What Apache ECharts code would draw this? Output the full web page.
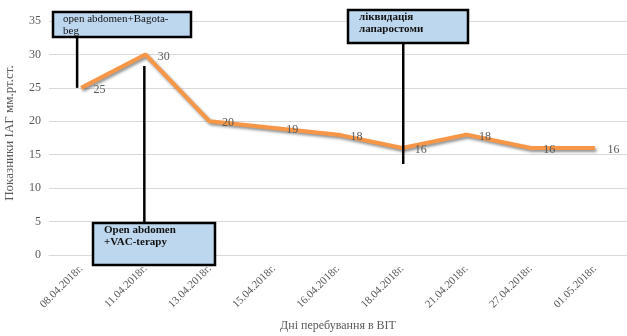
<!DOCTYPE html>
<html>
<head>
<meta charset="utf-8">
<script src="https://cdn.jsdelivr.net/npm/echarts@6/dist/echarts.min.js"></script>
<style>
  html, body { margin: 0; padding: 0; background: #fff; }
  #chart { width: 627px; height: 336px; }
</style>
</head>
<body>
<div id="chart"></div>
<script>
const days = ['08.04.2018г.', '11.04.2018г.', '13.04.2018г.', '15.04.2018г.', '16.04.2018г.',
  '18.04.2018г.', '21.04.2018г.', '27.04.2018г.', '01.05.2018г.']
const iap = [25, 30, 20, 19, 18, 16, 18, 16, 16]
const yTicks = [0, 5, 10, 15, 20, 25, 30, 35]

const serif = '"Liberation Serif", "DejaVu Serif", serif'
const gray = '#595959'

const chart = echarts.init(document.getElementById('chart'))

chart.setOption({
  animation: false,
  grid: { left: 49, right: 0, top: 21, bottom: 81, outerBoundsMode: 'none', containLabel: false },
  xAxis: {
    type: 'category',
    data: days,
    name: 'Дні перебування в ВІТ',
    nameLocation: 'middle',
    nameGap: 65,
    nameTextStyle: { fontFamily: serif, fontSize: 12, color: gray },
    axisLine: { lineStyle: { color: '#d9d9d9' } },
    axisTick: { show: false },
    axisLabel: { rotate: 45, margin: 12, fontFamily: serif, fontSize: 11, color: gray }
  },
  yAxis: {
    type: 'value',
    min: yTicks[0],
    max: yTicks[yTicks.length - 1],
    interval: 5,
    name: 'Показники ІАГ мм.рт.ст.',
    nameLocation: 'middle',
    nameGap: 33,
    nameTextStyle: { fontFamily: serif, fontSize: 13, color: gray, padding: [0, 0, 0, 10] },
    axisLine: { show: false },
    axisTick: { show: false },
    axisLabel: { margin: 8, fontFamily: serif, fontSize: 12, color: gray },
    splitLine: { lineStyle: { color: '#d9d9d9' } }
  },
  series: [{
    type: 'line',
    data: iap,
    symbol: 'circle',
    symbolSize: 1,
    showSymbol: true,
    itemStyle: { color: 'rgba(0,0,0,0)' },
    lineStyle: {
      color: '#F79646', width: 4,
      shadowColor: 'rgba(0,0,0,0.45)', shadowBlur: 3, shadowOffsetX: 1.5, shadowOffsetY: 2
    },
    label: {
      show: true, position: 'right', distance: 12, offset: [0, 2],
      fontFamily: serif, fontSize: 12, color: gray
    }
  }]
})

// callout boxes, anchored to the category positions
const px = i => chart.convertToPixel({ xAxisIndex: 0 }, days[i])
const py = v => chart.convertToPixel({ yAxisIndex: 0 }, v)

const box = (x, y, w, h, lines, bold) => ({
  type: 'group',
  children: [
    { type: 'rect', shape: { x, y, width: w, height: h },
      style: { fill: '#BDD7EE', stroke: '#000', lineWidth: 2.5 }, z: 10 },
    ...lines.map((t, k) => ({
      type: 'text', x: x + t.dx, y: y + 2 + k * 12, z: 11,
      style: { text: t.s, font: (bold ? 'bold ' : '') + '11px ' + serif, fill: '#111' }
    }))
  ]
})

const stem = (x, y1, y2) => ({
  type: 'line', z: 9,
  shape: { x1: x, y1, x2: x, y2 },
  style: { stroke: '#000', lineWidth: 2.5 }
})

chart.setOption({
  graphic: [
    stem(px(0) - 4, 37, py(iap[0])),
    box(53, 12, 138, 25, [{ s: 'open abdomen+Bagota-', dx: 10 }, { s: 'beg', dx: 10 }], false),
    stem(px(1) - 1, 66, 223),
    box(93, 223, 122, 42, [{ s: 'Open abdomen', dx: 11 }, { s: '+VAC-terapy', dx: 11 }], true),
    stem(px(5) + 1, 43, 164),
    box(348, 10, 120, 33, [{ s: 'ліквидація', dx: 11 }, { s: 'лапаростоми', dx: 11 }], true)
  ]
})
</script>
</body>
</html>
